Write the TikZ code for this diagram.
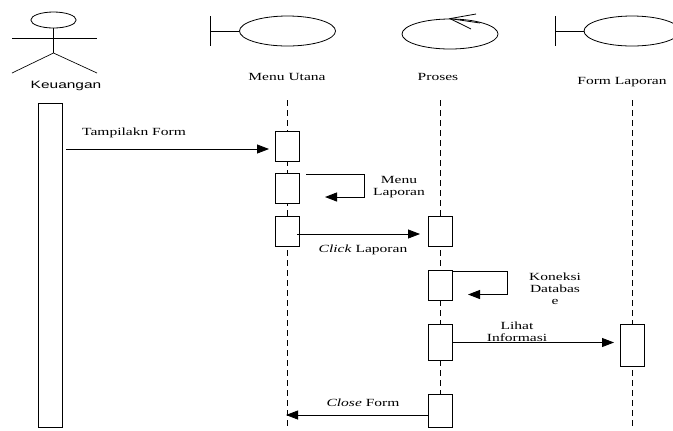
\documentclass[tikz,border=0pt]{standalone}
\usepackage{fontspec}
\setmainfont[FakeStretch=1.42]{Liberation Serif}
\newfontfamily\actorfont[FakeStretch=1.45]{Liberation Sans}
\usetikzlibrary{arrows.meta,shapes.geometric}

\tikzset{
	lbl/.style={font=\fontsize{8.2}{9}\selectfont,inner sep=0pt,align=center},
	icon/.style={draw,ellipse,inner sep=0pt,minimum width=72pt,minimum height=22.5pt,line width=0.6pt},
	lifeline/.style={dashed,dash pattern=on 4.5pt off 3pt,line width=0.75pt},
	actv/.style={draw,fill=white,inner sep=0pt,minimum width=18pt,minimum height=#1*0.75pt,line width=0.75pt},
	msg/.style={-{Triangle[length=9pt,width=6.75pt]},line width=0.6pt},
	loopmsg/.style={-{Triangle[length=9pt,width=6.75pt]},line width=0.75pt}
}

\begin{document}
\begin{tikzpicture}[x=0.75pt,y=-0.75pt]
	\useasboundingbox (0,0) rectangle (673,430);

	% actor
	\node[icon,minimum width=34pt,minimum height=12pt] (head) at (53.5,20) {};
	\coordinate (hip) at (53.5,53);
	\coordinate (armL) at (12,38);
	\coordinate (armR) at (97,38);
	\coordinate (legL) at (12,73);
	\coordinate (legR) at (97,73);
	\draw[line width=0.75pt] (head) -- (hip);
	\draw[line width=0.5pt] (armL) -- (armR);
	\draw[line width=0.5pt] (legL) -- (hip) -- (legR);
	\node[inner sep=0pt,font=\actorfont\fontsize{8}{9}\selectfont] (keu) at (66,85.5) {Keuangan};

	% objects on top
	\node[icon] (menu) at (287.5,31) {};
	\coordinate (menuT) at (210.5,16);
	\coordinate (menuB) at (210.5,46);
	\coordinate (menuM) at (210.5,31);
	\draw[line width=0.75pt] (menuT) -- (menuB);
	\draw[line width=0.6pt] (menuM) -- (menu);

	\node[icon] (proses) at (450,34) {};
	\coordinate (tickA) at (476,14);
	\coordinate (tickB) at (471,29);
	\coordinate (tickC) at (480,23);
	\draw[line width=0.6pt] (tickA) -- (proses.north) -- (tickB);
	\draw[line width=0.6pt] (proses.north) -- (tickC);

	\node[icon] (form) at (632,31) {};
	\coordinate (formT) at (555,16);
	\coordinate (formB) at (555,46);
	\coordinate (formM) at (555,31);
	\draw[line width=0.75pt] (formT) -- (formB);
	\draw[line width=0.6pt] (formM) -- (form);

	\node[lbl] (menulbl) at (287,77) {Menu Utana};
	\node[lbl] (proseslbl) at (438,77) {Proses};
	\node[lbl] (formlbl) at (622,82) {Form Laporan};

	% lifelines
	\foreach \name/\px in {a/287,b/440,c/632} {
		\coordinate (\name top) at (\px,100);
		\coordinate (\name end) at (\px,430);
		\draw[lifeline] (\name top) -- (\name end);
	}

	% activations
	\node[actv=324] (k) at (50,265.5) {};
	\node[actv=30] (m1) at (287,146) {};
	\node[actv=30] (m2) at (287,188) {};
	\node[actv=30] (m3) at (287,231) {};
	\node[actv=30] (p1) at (440.5,231) {};
	\node[actv=30] (p2) at (440.5,285) {};
	\node[actv=36] (p3) at (440.5,342.5) {};
	\node[actv=33] (p4) at (440.5,410.5) {};
	\node[actv=42] (f1) at (632,345.5) {};

	% messages
	\coordinate (s1) at (66,149);
	\coordinate (e1) at (269,149);
	\draw[msg] (s1) -- (e1);
	\node[lbl] (t1) at (134,133) {Tampilakn Form};

	\coordinate (s2) at (306,174.5);
	\coordinate (c2a) at (364,174.5);
	\coordinate (c2b) at (364,197);
	\coordinate (e2) at (325,197);
	\draw[loopmsg] (s2) -- (c2a) -- (c2b) -- (e2);
	\node[lbl] (t2) at (399,187.5) {Menu\\Laporan};

	\coordinate (s3) at (297,234);
	\coordinate (e3) at (420,234);
	\draw[msg] (s3) -- (e3);
	\node[lbl] (t3) at (363,250) {\textit{Click} Laporan};

	\coordinate (s4) at (452.5,271);
	\coordinate (c4a) at (507,271);
	\coordinate (c4b) at (507,294.5);
	\coordinate (e4) at (468,294.5);
	\draw[loopmsg] (s4) -- (c4a) -- (c4b) -- (e4);
	\node[lbl] (t4) at (555,289) {Koneksi\\Databas\\e};

	\coordinate (s5) at (452.5,342.5);
	\coordinate (e5) at (614,342.5);
	\draw[msg] (s5) -- (e5);
	\node[lbl] (t5) at (517,332) {Lihat\\Informasi};

	\coordinate (s6) at (428,415);
	\coordinate (e6) at (286,415);
	\draw[msg] (s6) -- (e6);
	\node[lbl] (t6) at (363,403) {\textit{Close} Form};
\end{tikzpicture}
\end{document}
